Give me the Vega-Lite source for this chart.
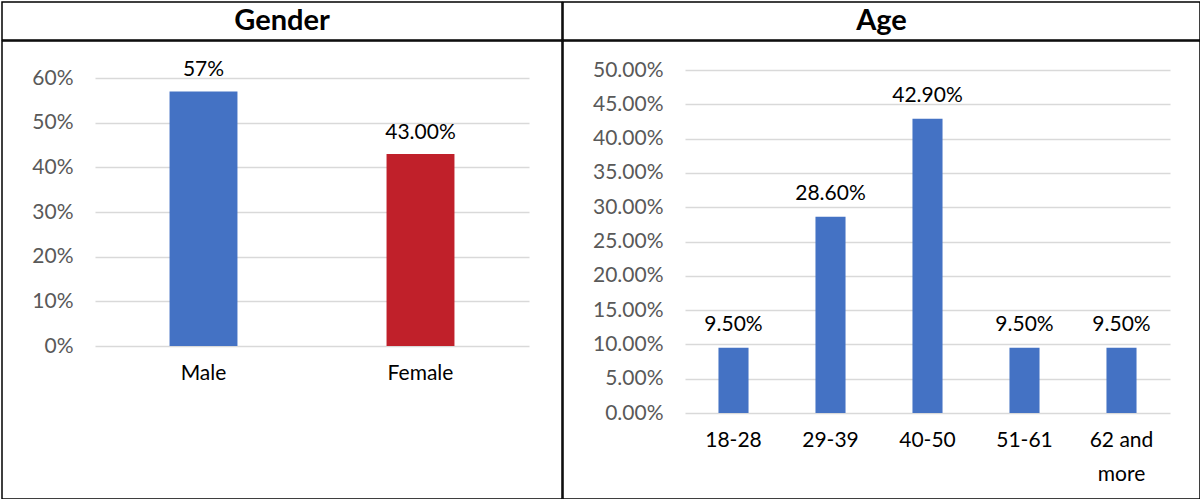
{
  "$schema": "https://vega.github.io/schema/vega-lite/v6.json",
  "padding": {"left": 1, "top": 1, "right": 2, "bottom": 2},
  "background": "#ffffff",
  "config": {
    "view": {"stroke": "#000000", "strokeWidth": 1.5},
    "font": "Lato",
    "axis": {
      "labelFont": "Lato",
      "labelFontSize": 21,
      "domain": false,
      "ticks": false,
      "title": null
    },
    "axisX": {"labelColor": "#000000", "labelAngle": 0, "grid": false, "labelPadding": 16},
    "axisY": {"labelColor": "#595959", "gridColor": "#D9D9D9", "gridWidth": 1.5, "labelPadding": 22}
  },
  "datasets": {
    "gender": [
      {"gender": "Male", "share": 0.57, "label": "57%"},
      {"gender": "Female", "share": 0.43, "label": "43.00%"}
    ],
    "age": [
      {"age": "18-28", "share": 0.095},
      {"age": "29-39", "share": 0.286},
      {"age": "40-50", "share": 0.429},
      {"age": "51-61", "share": 0.095},
      {"age": "62 and more", "share": 0.095}
    ],
    "headers": [
      {"panel": "Gender"},
      {"panel": "Age"}
    ]
  },
  "spacing": -3,
  "hconcat": [
    {
      "spacing": -1.5,
      "vconcat": [
        {
          "width": 560,
          "height": 38,
          "data": {"name": "headers"},
          "transform": [{"filter": "datum.panel == 'Gender'"}],
          "mark": {"type": "text", "fontSize": 29, "fontWeight": "bold", "color": "#000000", "baseline": "middle"},
          "encoding": {
            "x": {"field": "panel", "type": "nominal", "axis": null},
            "y": {"field": "panel", "type": "nominal", "axis": null},
            "text": {"field": "panel"}
          }
        },
        {
          "width": 560,
          "height": 458,
          "data": {"name": "gender"},
          "encoding": {
            "x": {
              "field": "gender",
              "type": "nominal",
              "sort": null,
              "scale": {"range": [93, 527], "paddingInner": 0, "paddingOuter": 0},
              "axis": {"offset": -153}
            },
            "y": {
              "field": "share",
              "type": "quantitative",
              "scale": {"domain": [0, 0.6], "range": [305, 37], "nice": false},
              "axis": {"offset": -93, "values": [0, 0.1, 0.2, 0.3, 0.4, 0.5, 0.6], "format": ".0%"}
            }
          },
          "layer": [
            {
              "mark": {"type": "bar", "width": {"band": 0.313}},
              "encoding": {
                "color": {
                  "field": "gender",
                  "type": "nominal",
                  "scale": {"domain": ["Male", "Female"], "range": ["#4472C4", "#C0202A"]},
                  "legend": null
                }
              }
            },
            {
              "mark": {"type": "text", "baseline": "alphabetic", "dy": -15, "fontSize": 21, "color": "#000000"},
              "encoding": {"text": {"field": "label"}}
            }
          ]
        }
      ]
    },
    {
      "spacing": -1.5,
      "vconcat": [
        {
          "width": 637,
          "height": 38,
          "data": {"name": "headers"},
          "transform": [{"filter": "datum.panel == 'Age'"}],
          "mark": {"type": "text", "fontSize": 29, "fontWeight": "bold", "color": "#000000", "baseline": "middle"},
          "encoding": {
            "x": {"field": "panel", "type": "nominal", "axis": null},
            "y": {"field": "panel", "type": "nominal", "axis": null},
            "text": {"field": "panel"}
          }
        },
        {
          "width": 637,
          "height": 458,
          "data": {"name": "age"},
          "encoding": {
            "x": {
              "field": "age",
              "type": "nominal",
              "sort": null,
              "scale": {"range": [122, 607], "paddingInner": 0, "paddingOuter": 0},
              "axis": {
                "offset": -86,
                "labelExpr": "datum.label == '62 and more' ? ['62 and', 'more'] : datum.label",
                "labelLineHeight": 34
              }
            },
            "y": {
              "field": "share",
              "type": "quantitative",
              "scale": {"domain": [0, 0.5], "range": [372, 29], "nice": false},
              "axis": {
                "offset": -122,
                "values": [0, 0.05, 0.1, 0.15, 0.2, 0.25, 0.3, 0.35, 0.4, 0.45, 0.5],
                "format": ".2%"
              }
            }
          },
          "layer": [
            {
              "mark": {"type": "bar", "width": {"band": 0.31}, "color": "#4472C4"}
            },
            {
              "mark": {"type": "text", "baseline": "alphabetic", "dy": -17, "fontSize": 21, "color": "#000000"},
              "encoding": {"text": {"field": "share", "type": "quantitative", "format": ".2%"}}
            }
          ]
        }
      ]
    }
  ]
}
